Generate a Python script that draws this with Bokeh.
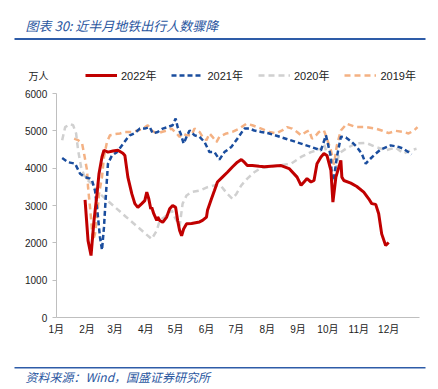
from bokeh.plotting import figure
from bokeh.models import (Label, Legend, LegendItem, FixedTicker, BoxAnnotation, LinearAxis, Range1d)
from bokeh.embed import file_html
from bokeh.resources import INLINE

# ---------------- data (x = day of year, y = 万人) ----------------
d2022 = [29, 32, 35, 36, 38, 41, 43, 46, 48, 52, 57, 62, 67, 69, 72, 76, 79, 82, 86, 89, 91, 93, 95, 96, 98,
         101, 102, 104, 107, 111, 114, 117, 120, 122, 124, 126, 128, 131, 136, 144, 147, 151, 152, 156, 159,
         162, 167, 172, 177, 182, 186, 189, 192, 197, 204, 209, 226, 234, 242, 246, 249, 252, 256, 259, 262,
         266, 269, 272, 276, 278, 281, 286, 287, 289, 296, 302, 309, 314, 317, 321, 324, 327, 331, 334]
v2022 = [3150, 2060, 1660, 1980, 2600, 3310, 3850, 4300, 4480, 4430, 4460, 4480, 4400, 4340, 3760, 3310, 3050,
         2950, 3050, 3130, 3360, 3180, 2910, 2950, 2780, 2600, 2690, 2600, 2550, 2690, 2910, 3000, 2950, 2600,
         2330, 2190, 2370, 2510, 2520, 2560, 2600, 2690, 2870, 3180, 3400, 3630, 3760, 3890, 4030, 4160, 4230,
         4160, 4070, 4070, 4050, 4040, 4070, 3990, 3760, 3540, 3630, 3720, 3630, 3670, 4120, 4300, 4390, 4340,
         3940, 3090, 3760, 4210, 3760, 3670, 3600, 3510, 3360, 3180, 3050, 3030, 2780, 2240, 1930, 2010]

d2021 = [6, 12, 19, 24, 29, 34, 36, 39, 42, 44, 46, 48, 50, 52, 56, 61, 66, 71, 74, 79, 84, 89, 94, 97, 102,
         107, 112, 117, 120, 122, 125, 128, 131, 134, 139, 144, 149, 154, 159, 164, 169, 176, 182, 189, 194,
         199, 206, 214, 240, 266, 271, 276, 277, 279, 282, 286, 291, 297, 302, 307, 311, 314, 319, 326, 336,
         344, 349, 357]
v2021 = [4270, 4160, 4120, 3850, 3760, 3720, 3670, 3400, 2690, 2150, 1810, 2420, 3310, 4120, 4340, 4430, 4610,
         4790, 4880, 4940, 5060, 5060, 5100, 4930, 4970, 5060, 5100, 5150, 5330, 5100, 4930, 4660, 4840, 5010,
         4880, 4840, 4700, 4430, 4430, 4230, 4430, 4570, 4790, 5060, 5060, 5010, 4970, 4930, 4710, 4480, 4880,
         4300, 3670, 3720, 4300, 4840, 4820, 4700, 4570, 4390, 4120, 4210, 4340, 4500, 4610, 4570, 4520, 4370]

d2020 = [6, 9, 14, 17, 20, 22, 25, 28, 32, 36, 39, 44, 70, 96, 101, 104, 109, 116, 119, 124, 127, 131, 136,
         144, 152, 159, 166, 172, 177, 181, 186, 192, 199, 206, 214, 222, 236, 246, 256, 266, 269, 272, 276,
         278, 281, 284, 291, 301, 311, 321, 331, 341, 349, 356, 362]
v2020 = [4750, 5100, 5180, 5150, 4930, 4480, 4030, 3810, 3670, 3580, 3450, 3310, 2700, 2100, 2330, 2600, 2690,
         2870, 2690, 2450, 3050, 3270, 3360, 3400, 3490, 3540, 3510, 3310, 3180, 3310, 3540, 3720, 3890, 4010,
         4030, 4070, 4120, 4300, 4430, 4520, 4660, 4390, 3940, 3490, 3940, 4390, 4520, 4660, 4680, 4570, 4480,
         4550, 4390, 4480, 4520]

d2019 = [18, 22, 26, 28, 31, 32, 34, 36, 37, 39, 41, 43, 46, 48, 51, 54, 59, 64, 69, 76, 82, 87, 92, 96, 101,
         106, 111, 116, 121, 124, 127, 131, 136, 139, 144, 147, 151, 154, 157, 161, 164, 171, 177, 184, 191,
         197, 206, 214, 221, 227, 232, 237, 242, 246, 251, 254, 257, 261, 264, 269, 272, 276, 279, 282, 286,
         292, 301, 311, 321, 327, 334, 341, 349, 354, 359, 363]
v2019 = [4790, 4750, 4660, 4390, 3940, 3490, 2950, 2330, 2060, 2240, 2690, 3310, 3760, 4300, 4700, 4880, 4910,
         4930, 4970, 4970, 5010, 5060, 5150, 5010, 4930, 4970, 5010, 5060, 4930, 4840, 4930, 4880, 4880, 5060,
         4970, 4840, 4750, 4930, 4840, 4700, 4840, 4930, 4970, 5060, 5190, 5150, 5060, 4970, 4930, 5010, 5100,
         5060, 4970, 4880, 4970, 5010, 4790, 4880, 4970, 5010, 4790, 4480, 4100, 4610, 5010, 5190, 5100, 5100,
         5060, 5010, 4940, 5000, 4970, 4930, 5000, 5100]

month_starts = [0, 31, 59, 90, 120, 151, 181, 212, 243, 273, 304, 334]
month_labels = ["1月", "2月", "3月", "4月", "5月", "6月", "7月", "8月", "9月", "10月", "11月", "12月"]
y_ticks = [0, 1000, 2000, 3000, 4000, 5000, 6000]
series_names = ["2022年", "2021年", "2020年", "2019年"]

title_text = "图表 30:  近半月地铁出行人数骤降"
source_text = "资料来源：Wind，国盛证券研究所"
unit_text = "万人"

# ---------------- layout (page pixels; canvas sits at page origin) ----------------
OX, OY = 0, 0                   # canvas offset on the page
W, H = 438, 389
AX_L, AX_R = 55.7, 419.0        # page x of day 0 and day XMAX
AX_B, AX_T = 317.0, 93.0        # page y of 0 and YMAX
XMAX, YMAX = 365, 6000

def dx(px):  # page pixel -> data x
    return (px - AX_L) / (AX_R - AX_L) * XMAX

def dy(py):  # page pixel -> data y
    return (AX_B - py) / (AX_B - AX_T) * YMAX

FONT = "Liberation Sans, Noto Sans CJK SC"
CJK = "Noto Sans CJK SC"
BLUE_T = "#2B579F"

p = figure(width=W, height=H, output_backend="svg", toolbar_location=None,
           x_range=Range1d(dx(OX), dx(OX + W)), y_range=Range1d(dy(OY + H), dy(OY)),
           x_axis_type=None, y_axis_type=None,
           min_border=0, min_border_left=0, min_border_right=0,
           min_border_top=0, min_border_bottom=0)
p.outline_line_color = None
p.grid.visible = False
p.background_fill_color = "white"
p.border_fill_color = "white"

xaxis = LinearAxis(fixed_location=0, bounds=(0, XMAX),
                   ticker=FixedTicker(ticks=month_starts),
                   major_label_overrides={m: l for m, l in zip(month_starts, month_labels)})
yaxis = LinearAxis(fixed_location=0, bounds=(0, YMAX), ticker=FixedTicker(ticks=y_ticks))
for ax in (xaxis, yaxis):
    ax.axis_line_color = "#BFBFBF"
    ax.axis_line_width = 1
    ax.major_tick_line_color = "#BFBFBF"
    ax.minor_tick_line_color = None
    ax.major_label_text_font = FONT
    ax.major_label_text_font_size = "10px"
    ax.major_label_text_color = "#222222"
xaxis.major_tick_out = 0
xaxis.major_tick_in = 0
yaxis.major_tick_out = 4
yaxis.major_tick_in = 0
yaxis.major_label_standoff = 5
xaxis.major_label_standoff = 6
p.add_layout(xaxis, "below")
p.add_layout(yaxis, "left")

r19 = p.line(d2019, v2019, line_color="#F4B183", line_width=2.5, line_dash="6 4")
r20 = p.line(d2020, v2020, line_color="#D0D0D0", line_width=2.5, line_dash="6 4")
r21 = p.line(d2021, v2021, line_color="#1A4D9E", line_width=2.5, line_dash="5 3")
r22 = p.line(d2022, v2022, line_color="#C00000", line_width=3)

legend = Legend(items=[LegendItem(label=series_names[0], renderers=[r22]),
                       LegendItem(label=series_names[1], renderers=[r21]),
                       LegendItem(label=series_names[2], renderers=[r20]),
                       LegendItem(label=series_names[3], renderers=[r19])],
                orientation="horizontal", location=(85 - OX, OY + H - 83),
                glyph_width=32, glyph_height=12, label_height=12,
                label_standoff=4, spacing=15, padding=0, margin=0,
                border_line_color=None, background_fill_alpha=0,
                label_text_font=FONT, label_text_font_size="11px",
                label_text_color="#222222")
p.add_layout(legend, "center")

p.add_layout(Label(x=dx(28), y=dy(75), text=unit_text, text_font=CJK,
                   text_font_size="10px", text_color="#222222",
                   text_baseline="middle", text_align="left"))

p.add_layout(Label(x=dx(25), y=dy(25), text=title_text, text_font=CJK,
                   text_font_style="italic", text_font_size="13px", text_color=BLUE_T,
                   text_baseline="middle", text_align="left"))
p.add_layout(Label(x=dx(25), y=dy(376), text=source_text, text_font=CJK,
                   text_font_style="italic", text_font_size="12px", text_color=BLUE_T,
                   text_baseline="middle", text_align="left"))

p.add_layout(BoxAnnotation(left=dx(14), right=dx(425), top=dy(37.5), bottom=dy(39.5),
                           fill_color="#2E5CA8", fill_alpha=1, line_color=None))
p.add_layout(BoxAnnotation(left=dx(14), right=dx(425), top=dy(366.5), bottom=dy(368),
                           fill_color="#2E5CA8", fill_alpha=1, line_color=None))

open("out.html", "w").write(file_html(p, INLINE))
